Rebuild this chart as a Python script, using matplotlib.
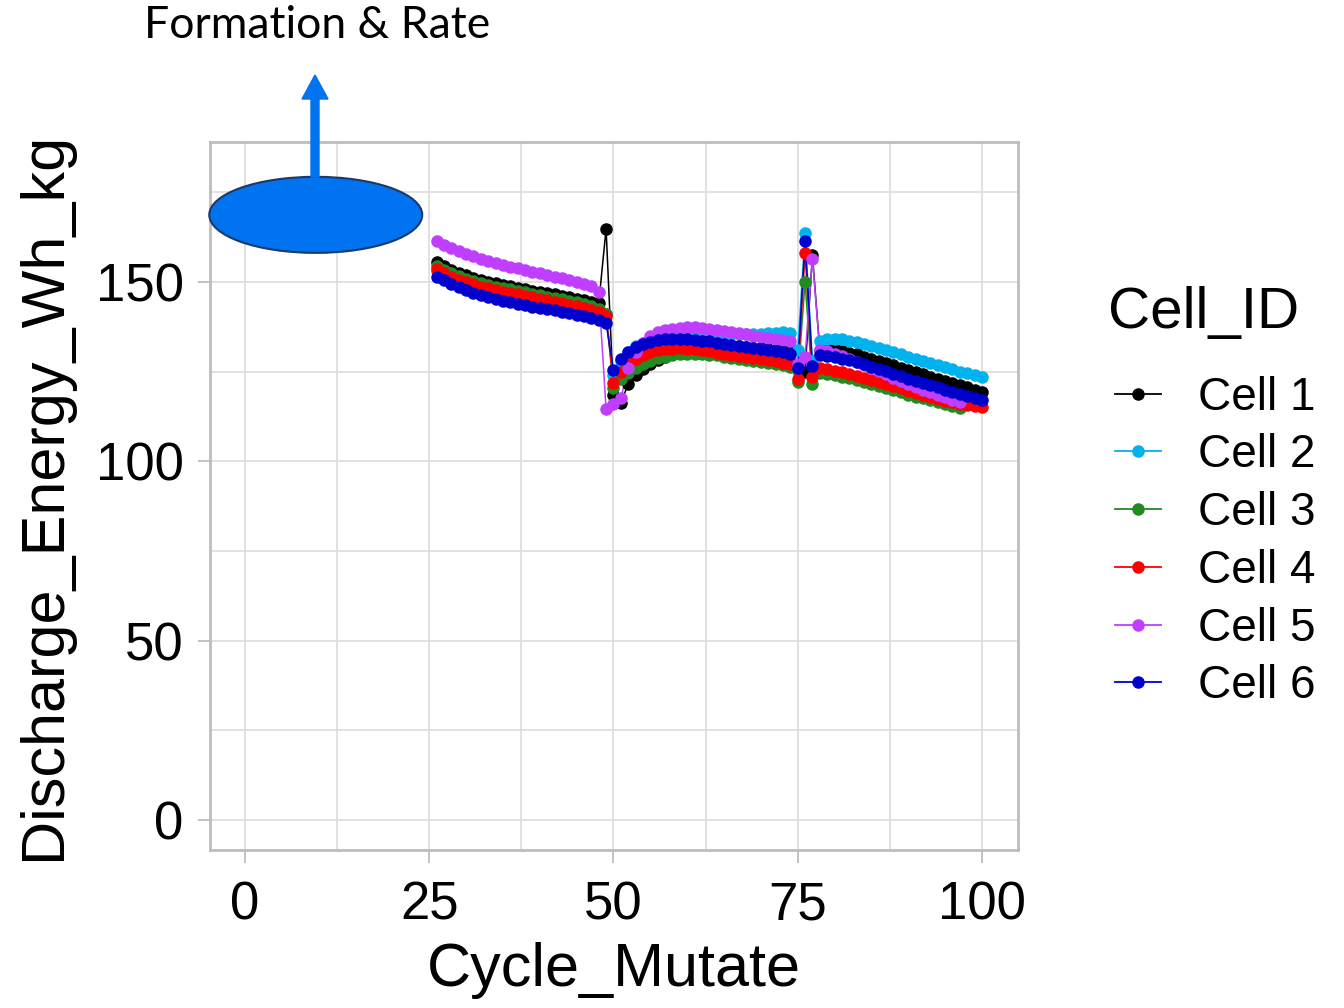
import matplotlib.pyplot as plt
from matplotlib.lines import Line2D
from matplotlib.patches import Ellipse, FancyArrow
from matplotlib.transforms import IdentityTransform

# cycles for each cell (cells 3 and 5 stop at cycle 97)
cycles_long = list(range(26, 101))
cycles_short = list(range(26, 98))

cell_1 = [155.5, 154.3, 153.3, 152.5, 151.8, 151.2, 150.6, 150.1, 149.6, 149.2, 148.8, 148.4,
          148.0, 147.6, 147.2, 146.8, 146.5, 146.1, 145.7, 145.3, 144.9, 144.5, 144.0,
          164.8, 118.5, 116.3,
          121.5, 124.0, 125.8, 127.2, 128.3, 129.2, 129.9, 130.5, 131.0, 131.4, 131.7, 131.9,
          132.0, 132.1, 132.1, 132.0, 131.9, 131.7, 131.5, 131.3, 131.0, 130.8, 130.5,
          126.5, 125.0, 157.5,
          131.0, 131.2, 131.2, 130.8, 130.3, 129.8, 129.2, 128.6, 128.0, 127.3, 126.7, 126.0,
          125.4, 124.8, 124.2, 123.6, 123.0, 122.4, 121.8, 121.2, 120.6, 120.0, 119.4]

cell_2 = [153.0, 151.9, 150.9, 150.1, 149.4, 148.8, 148.2, 147.7, 147.2, 146.8, 146.4, 146.0,
          145.6, 145.2, 144.8, 144.4, 144.1, 143.7, 143.3, 142.9, 142.5, 142.1, 141.6, 141.0,
          124.0,
          128.0, 130.5, 132.0, 133.0, 133.8, 134.3, 134.7, 135.0, 135.2, 135.4, 135.5, 135.6,
          135.6, 135.6, 135.6, 135.6, 135.6, 135.6, 135.6, 135.6, 135.7, 135.8, 135.9, 135.8,
          131.0, 163.5, 128.0,
          133.5, 134.0, 134.2, 134.0, 133.6, 133.2, 132.7, 132.2, 131.6, 131.0, 130.4, 129.8,
          129.2, 128.6, 128.0, 127.4, 126.8, 126.2, 125.6, 125.0, 124.5, 124.0, 123.5]

cell_3 = [154.5, 153.4, 152.4, 151.6, 150.9, 150.3, 149.7, 149.2, 148.7, 148.3, 147.9, 147.5,
          147.1, 146.7, 146.3, 145.9, 145.5, 145.1, 144.7, 144.3, 143.8, 143.3, 142.5, 141.0,
          120.5,
          123.0, 124.5, 126.0, 127.2, 128.0, 128.7, 129.2, 129.6, 129.9, 130.0, 130.0, 129.9,
          129.7, 129.5, 129.2, 128.9, 128.6, 128.3, 128.0, 127.7, 127.4, 127.1, 126.8, 126.4,
          122.0, 150.0, 121.5,
          124.6, 124.4, 124.0, 123.6, 123.1, 122.6, 122.1, 121.6, 121.0, 120.4, 119.8, 119.2,
          118.6, 118.0, 117.5, 117.0, 116.4, 115.9, 115.4, 114.9]

cell_4 = [153.5, 152.4, 151.4, 150.6, 149.9, 149.3, 148.7, 148.2, 147.7, 147.3, 146.9, 146.5,
          146.1, 145.7, 145.3, 144.9, 144.5, 144.1, 143.7, 143.2, 142.7, 142.2, 141.5, 140.5,
          121.8,
          125.0, 127.0, 128.5, 129.6, 130.4, 130.9, 131.2, 131.4, 131.5, 131.4, 131.2, 130.9,
          130.6, 130.3, 130.0, 129.7, 129.4, 129.1, 128.8, 128.5, 128.2, 127.9, 127.5, 127.0,
          123.0, 158.0, 123.5,
          126.0, 125.8, 125.3, 124.9, 124.4, 123.9, 123.3, 122.7, 122.1, 121.5, 120.9, 120.3,
          119.7, 119.1, 118.5, 117.9, 117.4, 116.9, 116.4, 116.0, 115.7, 115.4, 115.2]

cell_5 = [161.5, 160.4, 159.4, 158.5, 157.8, 157.1, 156.4, 155.8, 155.2, 154.7, 154.2, 153.8,
          153.3, 152.9, 152.4, 152.0, 151.5, 151.0, 150.5, 150.0, 149.4, 148.8, 147.2,
          114.6, 116.0, 117.5,
          126.0, 130.5, 133.0, 134.8, 135.9, 136.6, 137.0, 137.2, 137.3, 137.3, 137.2, 137.0,
          136.7, 136.4, 136.1, 135.7, 135.4, 135.0, 134.7, 134.4, 134.1, 133.8, 133.4,
          127.0, 129.0, 156.5,
          131.0, 130.6, 130.0, 129.3, 128.5, 127.7, 126.9, 126.0, 125.1, 124.2, 123.3, 122.4,
          121.6, 120.8, 120.0, 119.3, 118.6, 117.9, 117.2, 116.4]

cell_6 = [151.5, 150.4, 149.4, 148.5, 147.7, 147.0, 146.4, 145.8, 145.3, 144.8, 144.3, 143.9,
          143.5, 143.1, 142.7, 142.4, 142.1, 141.7, 141.3, 140.9, 140.5, 140.0, 139.3, 138.5,
          125.5,
          128.5, 130.5, 131.8, 132.7, 133.3, 133.7, 134.0, 134.1, 134.1, 134.0, 133.8, 133.6,
          133.4, 133.1, 132.8, 132.5, 132.2, 131.9, 131.6, 131.3, 131.0, 130.7, 130.4, 130.0,
          126.0, 161.5, 126.5,
          129.5, 129.3, 129.0, 128.6, 128.1, 127.6, 127.0, 126.4, 125.8, 125.1, 124.4, 123.7,
          123.0, 122.4, 121.8, 121.2, 120.6, 120.0, 119.4, 118.8, 118.2, 117.6, 117.1]

cell_names = ['Cell 1', 'Cell 2', 'Cell 3', 'Cell 4', 'Cell 5', 'Cell 6']
cell_values = [cell_1, cell_2, cell_3, cell_4, cell_5, cell_6]
cell_cycles = [cycles_long, cycles_long, cycles_short, cycles_long, cycles_short, cycles_long]
cell_colors = ['#000000', '#00B2EE', '#228B22', '#FF0000', '#BF3EFF', '#0000CD']

plt.rcParams['font.family'] = ['Liberation Sans', 'DejaVu Sans']

fig = plt.figure(figsize=(13.44, 10.08), dpi=100)
ax = fig.add_axes([0.15625, 0.1567, 0.6012, 0.7024])

# lines first, then points (ggplot style layering)
for cyc, vals, col in zip(cell_cycles, cell_values, cell_colors):
    ax.plot(cyc, vals, color=col, lw=1.1, zorder=3)
for cyc, vals, col in zip(cell_cycles, cell_values, cell_colors):
    ax.plot(cyc, vals, ls='none', marker='o', ms=8, color=col, zorder=4)

ax.set_xlim(-4.75, 104.9)
ax.set_ylim(-8.4, 189)
ax.set_xticks([0, 25, 50, 75, 100])
ax.set_yticks([0, 50, 100, 150])
ax.set_xticks([12.5, 37.5, 62.5, 87.5], minor=True)
ax.set_yticks([25, 75, 125, 175], minor=True)
ax.grid(True, which='both', color='#DEDEDE', lw=1.3, zorder=0)
ax.set_axisbelow(True)
for s in ax.spines.values():
    s.set_color('#BDBDBD')
    s.set_linewidth(2)
ax.tick_params(which='major', length=9, width=1.3, color='#BDBDBD', labelsize=38,
               labelcolor='black')
ax.tick_params(axis='x', which='major', pad=13)
ax.tick_params(axis='y', which='major', pad=10)
ax.tick_params(which='minor', length=0)

ax.set_xlabel('Cycle_Mutate', fontsize=44, labelpad=8)
ax.set_ylabel('Discharge_Energy_Wh_kg', fontsize=44, labelpad=16)

# legend: title as separate text, entries with line + dot
handles = [Line2D([], [], color=c, lw=1.3, marker='o', ms=8) for c in cell_colors]
fig.legend(handles, cell_names, loc='center left', bbox_to_anchor=(1115 / 1344, 1 - 542 / 1008),
           frameon=False, fontsize=33, handlelength=1.0, handletextpad=0.8,
           labelspacing=0.30, borderpad=0, borderaxespad=0)
fig.text(1108 / 1344, 1 - 313 / 1008, 'Cell_ID', fontsize=42, ha='left', va='center')

# annotation: ellipse, arrow and label
ell = Ellipse((9.6, 168.7), 28.9, 21.2, facecolor='#0073F0', edgecolor='#1F3864',
              lw=1.5, clip_on=False, zorder=5)
ax.add_patch(ell)
arrow = FancyArrow(315, 831, 0, 102, width=8, head_width=26, head_length=24,
                   length_includes_head=True, color='#0073F0', transform=IdentityTransform())
fig.add_artist(arrow)
fig.text(0.107, 0.975, 'Formation & Rate', fontsize=32, family='Lato', va='center',
         ha='left')

fig.savefig('out.png', dpi=100)
